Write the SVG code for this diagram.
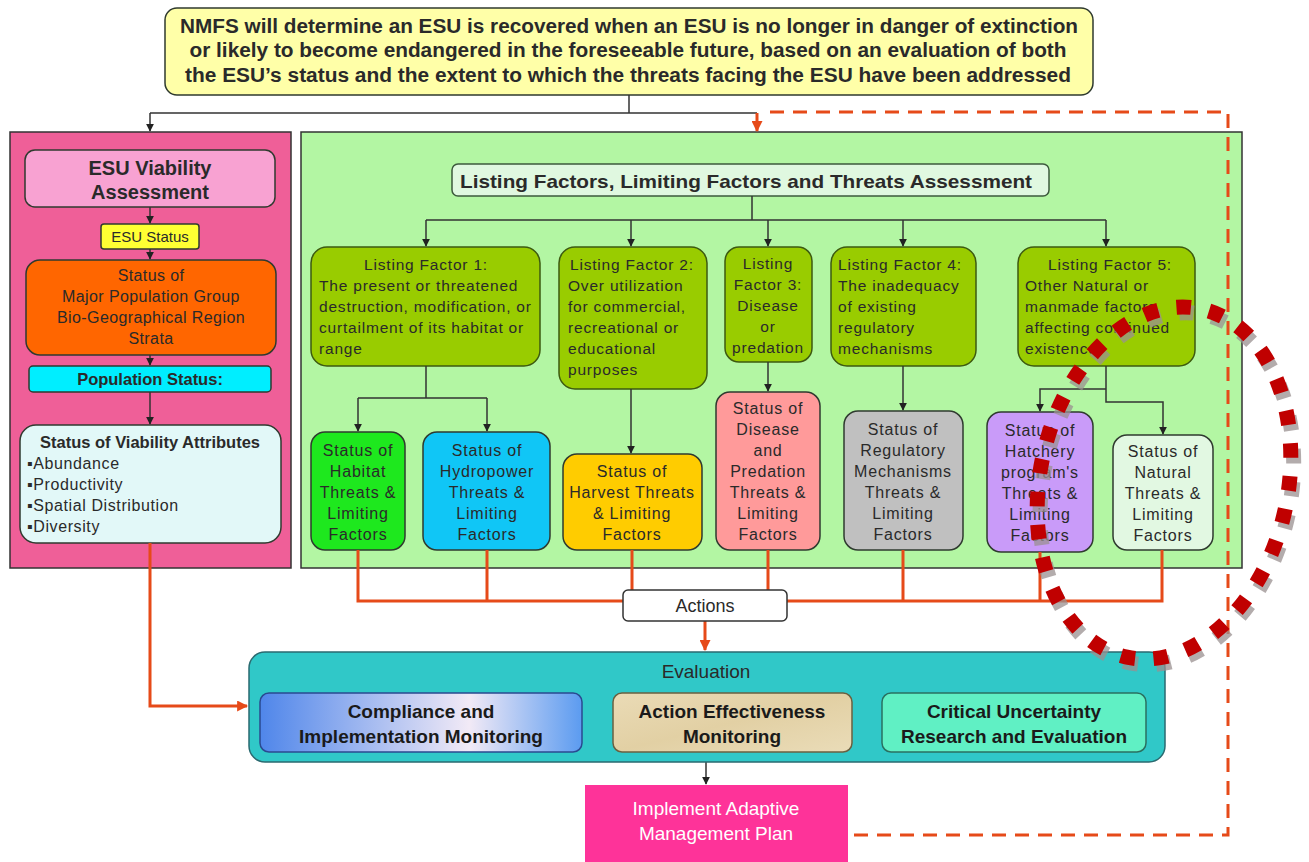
<svg xmlns="http://www.w3.org/2000/svg" width="1309" height="862" viewBox="0 0 1309 862">
  <defs>
    <style>
      text { font-family: "Liberation Sans", Arial, sans-serif; fill: #2a2a2a; }
      .c { text-anchor: middle; }
      .b { font-weight: bold; }
      .lf { font-size: 15.5px; letter-spacing: 0.8px; }
      .st { font-size: 16px; letter-spacing: 0.8px; text-anchor: middle; }
      .box { stroke: #2f3a2f; stroke-width: 1.5; }
      .lfbox { fill: #99cc00; stroke: #3d5a10; stroke-width: 1.5; }
      .wire { fill: none; stroke: #333; stroke-width: 1.5; }
      .red { fill: none; stroke: #e64a19; stroke-width: 3; }
      .dash { fill: none; stroke: #e64a19; stroke-width: 3; stroke-dasharray: 14 9; }
      .sub { font-size: 19px; font-weight: bold; text-anchor: middle; fill: #1a1a1a; }
      .att { font-size: 16px; letter-spacing: 0.6px; }
    </style>
    <marker id="ah" viewBox="0 0 10 10" refX="9" refY="5" markerWidth="8" markerHeight="8" markerUnits="userSpaceOnUse" orient="auto">
      <path d="M0,0 L10,5 L0,10 z" fill="#222"/>
    </marker>
    <marker id="ahr" viewBox="0 0 10 10" refX="9" refY="5" markerWidth="11" markerHeight="11" markerUnits="userSpaceOnUse" orient="auto">
      <path d="M0,0 L10,5 L0,10 z" fill="#e64a19"/>
    </marker>
    <linearGradient id="gComp" x1="0" y1="0" x2="1" y2="0">
      <stop offset="0" stop-color="#4f86ea"/>
      <stop offset="0.65" stop-color="#f2eaf6"/>
      <stop offset="1" stop-color="#5b9bf0"/>
    </linearGradient>
    <linearGradient id="gTan" x1="0" y1="0" x2="1" y2="1">
      <stop offset="0" stop-color="#eadbb6"/>
      <stop offset="0.5" stop-color="#e2d0a4"/>
      <stop offset="1" stop-color="#eadcb8"/>
    </linearGradient>
  </defs>

  <rect width="1309" height="862" fill="#ffffff"/>

  <!-- recovery criterion statement -->
  <g id="recovery">
    <rect x="165" y="8" width="928" height="87" rx="12" fill="#ffffa8" class="box"/>
    <text class="c b" x="629" y="33" font-size="20" textLength="898" lengthAdjust="spacingAndGlyphs">NMFS will determine an ESU is recovered when an ESU is no longer in danger of extinction</text>
    <text class="c b" x="628" y="57" font-size="20" textLength="877" lengthAdjust="spacingAndGlyphs">or likely to become endangered in the foreseeable future, based on an evaluation of both</text>
    <text class="c b" x="628" y="82" font-size="20" textLength="886" lengthAdjust="spacingAndGlyphs">the ESU’s status and the extent to which the threats facing the ESU have been addressed</text>
  </g>

  <!-- viability panel -->
  <g id="viability-panel">
    <rect x="10" y="132" width="281" height="436" fill="#ef5f98" stroke="#333" stroke-width="1.5"/>
  </g>
  <g id="esu-viability">
    <rect x="25" y="150" width="250" height="57" rx="10" fill="#f8a2d2" class="box"/>
    <text class="c b" x="150" y="175" font-size="20">ESU Viability</text>
    <text class="c b" x="150" y="199" font-size="20">Assessment</text>
  </g>
  <g id="esu-status">
    <rect x="101" y="224" width="98" height="25" rx="3" fill="#ffff33" class="box"/>
    <text class="c" x="150" y="242" font-size="15">ESU Status</text>
  </g>
  <g id="mpg-status">
    <rect x="26" y="260" width="250" height="95" rx="14" fill="#ff6600" class="box"/>
    <text class="c" x="151" y="281" font-size="16" letter-spacing="0.4">Status of</text>
    <text class="c" x="151" y="302" font-size="16" letter-spacing="0.4">Major Population Group</text>
    <text class="c" x="151" y="323" font-size="16" letter-spacing="0.4">Bio-Geographical Region</text>
    <text class="c" x="151" y="344" font-size="16" letter-spacing="0.4">Strata</text>
  </g>
  <g id="population-status">
    <rect x="29" y="366" width="242" height="26" rx="4" fill="#00eeff" class="box"/>
    <text class="c b" x="150" y="385" font-size="16.5">Population Status:</text>
  </g>
  <g id="viability-attributes">
    <rect x="20" y="425" width="261" height="118" rx="16" fill="#e2f8f8" class="box"/>
    <text class="c b" x="150" y="448" font-size="16.5">Status  of Viability Attributes</text>
    <text class="att" x="27" y="469">▪Abundance</text>
    <text class="att" x="27" y="490">▪Productivity</text>
    <text class="att" x="27" y="511">▪Spatial Distribution</text>
    <text class="att" x="27" y="532">▪Diversity</text>
  </g>

  <!-- threats panel -->
  <g id="threats-panel">
    <rect x="301" y="132" width="941" height="436" fill="#b3f6a3" stroke="#333" stroke-width="1.5"/>
  </g>
  <g id="threats-assessment">
    <rect x="452" y="164" width="597" height="32" rx="6" fill="#e0f8e0" stroke="#3d5a3d" stroke-width="1.5"/>
    <text class="c b" x="746" y="188" font-size="19" textLength="572" lengthAdjust="spacingAndGlyphs">Listing Factors, Limiting Factors and Threats Assessment</text>
  </g>

  <g id="listing-factor-1">
    <rect x="311" y="247" width="229" height="119" rx="16" class="lfbox"/>
    <text class="lf c" x="426" y="270">Listing Factor 1:</text>
    <text class="lf" x="319" y="291">The present or threatened</text>
    <text class="lf" x="319" y="312">destruction, modification, or</text>
    <text class="lf" x="319" y="333">curtailment of its habitat or</text>
    <text class="lf" x="319" y="354">range</text>
  </g>
  <g id="listing-factor-2">
    <rect x="559" y="247" width="148" height="142" rx="16" class="lfbox"/>
    <text class="lf" x="570" y="270">Listing Factor 2:</text>
    <text class="lf" x="568" y="291">Over utilization</text>
    <text class="lf" x="568" y="312">for commercial,</text>
    <text class="lf" x="568" y="333">recreational or</text>
    <text class="lf" x="568" y="354">educational</text>
    <text class="lf" x="568" y="375">purposes</text>
  </g>
  <g id="listing-factor-3">
    <rect x="725" y="247" width="87" height="115" rx="14" class="lfbox"/>
    <text class="lf c" x="768" y="269">Listing</text>
    <text class="lf c" x="768" y="290">Factor 3:</text>
    <text class="lf c" x="768" y="311">Disease</text>
    <text class="lf c" x="768" y="332">or</text>
    <text class="lf c" x="768" y="353">predation</text>
  </g>
  <g id="listing-factor-4">
    <rect x="831" y="247" width="145" height="119" rx="16" class="lfbox"/>
    <text class="lf" x="838" y="270">Listing Factor 4:</text>
    <text class="lf" x="838" y="291">The inadequacy</text>
    <text class="lf" x="838" y="312">of existing</text>
    <text class="lf" x="838" y="333">regulatory</text>
    <text class="lf" x="838" y="354">mechanisms</text>
  </g>
  <g id="listing-factor-5">
    <rect x="1018" y="247" width="177" height="119" rx="16" class="lfbox"/>
    <text class="lf c" x="1110" y="270">Listing Factor 5:</text>
    <text class="lf" x="1025" y="291">Other Natural or</text>
    <text class="lf" x="1025" y="312">manmade factors</text>
    <text class="lf" x="1025" y="333">affecting continued</text>
    <text class="lf" x="1025" y="354">existence</text>
  </g>

  <g id="habitat-threats">
    <rect x="311" y="432" width="94" height="118" rx="14" fill="#1ee81e" class="box"/>
    <text class="st" x="358" y="456">Status of</text>
    <text class="st" x="358" y="477">Habitat</text>
    <text class="st" x="358" y="498">Threats &amp;</text>
    <text class="st" x="358" y="519">Limiting</text>
    <text class="st" x="358" y="540">Factors</text>
  </g>
  <g id="hydropower-threats">
    <rect x="423" y="432" width="127" height="118" rx="14" fill="#10c6f6" class="box"/>
    <text class="st" x="487" y="456">Status of</text>
    <text class="st" x="487" y="477">Hydropower</text>
    <text class="st" x="487" y="498">Threats &amp;</text>
    <text class="st" x="487" y="519">Limiting</text>
    <text class="st" x="487" y="540">Factors</text>
  </g>
  <g id="harvest-threats">
    <rect x="563" y="454" width="139" height="96" rx="14" fill="#ffcc00" class="box"/>
    <text class="st" x="632" y="477">Status of</text>
    <text class="st" x="632" y="498">Harvest Threats</text>
    <text class="st" x="632" y="519">&amp; Limiting</text>
    <text class="st" x="632" y="540">Factors</text>
  </g>
  <g id="disease-threats">
    <rect x="716" y="392" width="104" height="158" rx="14" fill="#ff9a9a" class="box"/>
    <text class="st" x="768" y="414">Status of</text>
    <text class="st" x="768" y="435">Disease</text>
    <text class="st" x="768" y="456">and</text>
    <text class="st" x="768" y="477">Predation</text>
    <text class="st" x="768" y="498">Threats &amp;</text>
    <text class="st" x="768" y="519">Limiting</text>
    <text class="st" x="768" y="540">Factors</text>
  </g>
  <g id="regulatory-threats">
    <rect x="844" y="411" width="119" height="139" rx="14" fill="#c0c0c0" class="box"/>
    <text class="st" x="903" y="435">Status of</text>
    <text class="st" x="903" y="456">Regulatory</text>
    <text class="st" x="903" y="477">Mechanisms</text>
    <text class="st" x="903" y="498">Threats &amp;</text>
    <text class="st" x="903" y="519">Limiting</text>
    <text class="st" x="903" y="540">Factors</text>
  </g>
  <g id="hatchery-threats">
    <rect x="987" y="412" width="106" height="140" rx="14" fill="#c99bf9" class="box"/>
    <text class="st" x="1040" y="436">Status of</text>
    <text class="st" x="1040" y="457">Hatchery</text>
    <text class="st" x="1040" y="478">program's</text>
    <text class="st" x="1040" y="499">Threats &amp;</text>
    <text class="st" x="1040" y="520">Limiting</text>
    <text class="st" x="1040" y="541">Factors</text>
  </g>
  <g id="natural-threats">
    <rect x="1113" y="435" width="100" height="115" rx="14" fill="#e2f8e2" class="box"/>
    <text class="st" x="1163" y="457">Status of</text>
    <text class="st" x="1163" y="478">Natural</text>
    <text class="st" x="1163" y="499">Threats &amp;</text>
    <text class="st" x="1163" y="520">Limiting</text>
    <text class="st" x="1163" y="541">Factors</text>
  </g>

  <!-- connectors -->
  <g id="connectors">
    <path class="wire" d="M629,95 V113 M150,113 H757"/>
    <path class="wire" d="M150,113 V131" marker-end="url(#ah)"/>
    <path class="red" d="M757,113 V131" marker-end="url(#ahr)" stroke-width="2.5"/>
    <path class="dash" d="M770,112 H1228 V835 H848"/>

    <path class="wire" d="M150,207 V223" marker-end="url(#ah)"/>
    <path class="wire" d="M150,249 V259" marker-end="url(#ah)"/>
    <path class="wire" d="M150,355 V365" marker-end="url(#ah)"/>
    <path class="wire" d="M150,392 V424" marker-end="url(#ah)"/>

    <path class="wire" d="M752,196 V220 M426,220 H1106"/>
    <path class="wire" d="M426,220 V246" marker-end="url(#ah)"/>
    <path class="wire" d="M631,220 V246" marker-end="url(#ah)"/>
    <path class="wire" d="M768,220 V246" marker-end="url(#ah)"/>
    <path class="wire" d="M903,220 V246" marker-end="url(#ah)"/>
    <path class="wire" d="M1106,220 V246" marker-end="url(#ah)"/>

    <path class="wire" d="M426,366 V398 M358,398 H487"/>
    <path class="wire" d="M358,398 V431" marker-end="url(#ah)"/>
    <path class="wire" d="M487,398 V431" marker-end="url(#ah)"/>
    <path class="wire" d="M631,389 V453" marker-end="url(#ah)"/>
    <path class="wire" d="M768,362 V391" marker-end="url(#ah)"/>
    <path class="wire" d="M903,366 V410" marker-end="url(#ah)"/>
    <path class="wire" d="M1106,366 V402 H1163 V434" marker-end="url(#ah)"/>
    <path class="wire" d="M1106,389 H1040 V411" marker-end="url(#ah)"/>

    <path class="red" d="M358,550 V601 H1162 V550 M487,550 V601 M632,550 V601 M768,550 V601 M903,550 V601 M1040,552 V601"/>
    <path class="red" d="M705,621 V650" marker-end="url(#ahr)"/>
    <path class="red" d="M150,543 V706 H247" marker-end="url(#ahr)"/>
    <path class="wire" d="M706,762 V784" marker-end="url(#ah)"/>
  </g>

  <g id="actions">
    <rect x="623" y="590" width="164" height="31" rx="5" fill="#ffffff" stroke="#333" stroke-width="1.5"/>
    <text class="c" x="705" y="612" font-size="18" fill="#222">Actions</text>
  </g>

  <g id="evaluation">
    <rect x="249" y="652" width="916" height="110" rx="16" fill="#30c8c8" stroke="#2a6a70" stroke-width="1.5"/>
    <text class="c" x="706" y="678" font-size="19" fill="#3a3a3a">Evaluation</text>
  </g>
  <g id="compliance-monitoring">
    <rect x="260" y="693" width="322" height="59" rx="9" fill="url(#gComp)" stroke="#2a4a90" stroke-width="1.5"/>
    <text class="sub" x="421" y="718">Compliance and</text>
    <text class="sub" x="421" y="743">Implementation Monitoring</text>
  </g>
  <g id="effectiveness-monitoring">
    <rect x="613" y="693" width="239" height="59" rx="9" fill="url(#gTan)" stroke="#6a6040" stroke-width="1.5"/>
    <text class="sub" x="732" y="718">Action Effectiveness</text>
    <text class="sub" x="732" y="743">Monitoring</text>
  </g>
  <g id="uncertainty-research">
    <rect x="882" y="693" width="264" height="59" rx="9" fill="#60f0c4" stroke="#2a7060" stroke-width="1.5"/>
    <text class="sub" x="1014" y="718">Critical Uncertainty</text>
    <text class="sub" x="1014" y="743">Research and Evaluation</text>
  </g>

  <g id="adaptive-management">
    <rect x="585" y="785" width="263" height="77" fill="#fe3399"/>
    <text class="c" x="716" y="815" font-size="19" style="fill:#ffffff">Implement Adaptive</text>
    <text class="c" x="716" y="840" font-size="19" style="fill:#ffffff">Management Plan</text>
  </g>

  <!-- highlight ring around factor 5 outcomes -->
  <g id="highlight-ring" transform="rotate(12 1164 483)">
    <ellipse cx="1168" cy="488" rx="124" ry="178" fill="none" stroke="#9a9090" stroke-opacity="0.75" stroke-width="15" pathLength="290" stroke-dasharray="4.4 5.6"/>
    <ellipse cx="1164" cy="483" rx="124" ry="178" fill="none" stroke="#c00000" stroke-width="15" pathLength="290" stroke-dasharray="4.4 5.6"/>
  </g>
</svg>
